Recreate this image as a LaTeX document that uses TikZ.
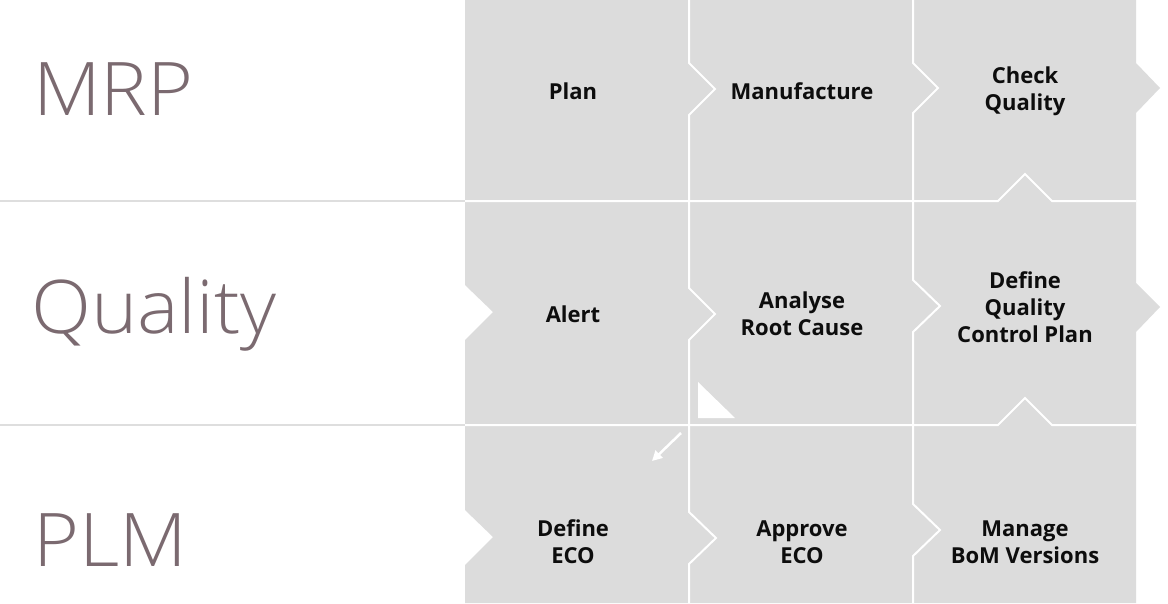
\documentclass[tikz,border=0pt]{standalone}
\usepackage{fontspec}
\usetikzlibrary{arrows.meta}
\IfFontExistsTF{Open Sans Light}{\newfontfamily\lanefont{Open Sans Light}[FakeStretch=1.06]}{%
  \IfFontExistsTF{Poppins ExtraLight}{\newfontfamily\lanefont{Poppins ExtraLight}}{\newfontfamily\lanefont{Poppins}}}
\IfFontExistsTF{Open Sans Bold}{\newfontfamily\cellfont{Open Sans Bold}}{%
  \IfFontExistsTF{Poppins SemiBold}{\newfontfamily\cellfont{Poppins SemiBold}}{\newfontfamily\cellfont{Open Sans}[FakeBold=1.5]}}
\definecolor{cellgray}{HTML}{DCDCDC}
\definecolor{lanecol}{HTML}{7B6A70}
\definecolor{rulegray}{HTML}{DEDEDE}
\definecolor{textcol}{HTML}{0D0D0D}
\tikzset{
  lane/.style={anchor=west, inner sep=0pt, text=lanecol, font=\lanefont\fontsize{74}{74}\selectfont},
  celltext/.style={align=center, inner sep=0pt, text=textcol, font=\cellfont\fontsize{22}{27}\selectfont},
  sep/.style={draw=white, line width=2pt, line join=miter},
  lanerule/.style={draw=rulegray, line width=1.5pt}
}
\begin{document}
\begin{tikzpicture}[x=1pt,y=-1pt]
\useasboundingbox (0,0) rectangle (1168,603);
\fill[white] (0,0) rectangle (1168,603);
% lane rules in the label column
\draw[lanerule] (0,201) -- (465,201);
\draw[lanerule] (0,425) -- (465,425);
% gray grid body with outer chevrons and notches
\fill[cellgray] (465,0) -- (1136,0) -- (1136,63) -- (1160,88) -- (1136,113)
  -- (1136,283) -- (1160,307) -- (1136,332) -- (1136,603) -- (465,603)
  -- (465,565) -- (493,537) -- (465,510) -- (465,340) -- (493,312) -- (465,285) -- cycle;
% vertical separators with chevrons
\draw[sep] (689,0) -- (689,63) -- (715,89) -- (689,115) -- (689,288) -- (715,314) -- (689,340)
  -- (689,512) -- (716,538) -- (689,564) -- (689,603);
\draw[sep] (913,0) -- (913,63) -- (938,88) -- (913,113) -- (913,280) -- (940,306) -- (913,332)
  -- (913,504) -- (940,530) -- (913,556) -- (913,603);
% horizontal separators with upward chevrons
\draw[sep] (465,201) -- (998,201) -- (1025,174) -- (1052,201) -- (1136,201);
\draw[sep] (465,425) -- (998,425) -- (1025,398) -- (1052,425) -- (1136,425);
% lane labels
\node[lane] (mrp) at (33,89) {MRP};
\node[lane] (quality) at (31,314) {Quality};
\node[lane] (plm) at (33,540) {PLM};
% cell texts
\node[celltext] (plan) at (573,91) {Plan};
\node[celltext] (manufacture) at (802,91) {Manufacture};
\node[celltext] (check) at (1025,91) {Check\\Quality};
\node[celltext] (alert) at (573,314) {Alert};
\node[celltext] (analyse) at (802,314) {Analyse\\Root Cause};
\node[celltext] (define) at (1025,307) {Define\\Quality\\Control Plan};
\node[celltext] (eco) at (573,542) {Define\\ECO};
\node[celltext] (approve) at (802,542) {Approve\\ECO};
\node[celltext] (bom) at (1025,542) {Manage\\BoM Versions};
% corner marker and arrow
\fill[white] (698,382) -- (698,418) -- (735,418) -- cycle;
\coordinate (arrS) at (681,433);
\coordinate (arrE) at (652,461);
\draw[white, line width=2.5pt, -{Triangle[length=10pt,width=10pt]}] (arrS) -- (arrE);
\end{tikzpicture}
\end{document}
